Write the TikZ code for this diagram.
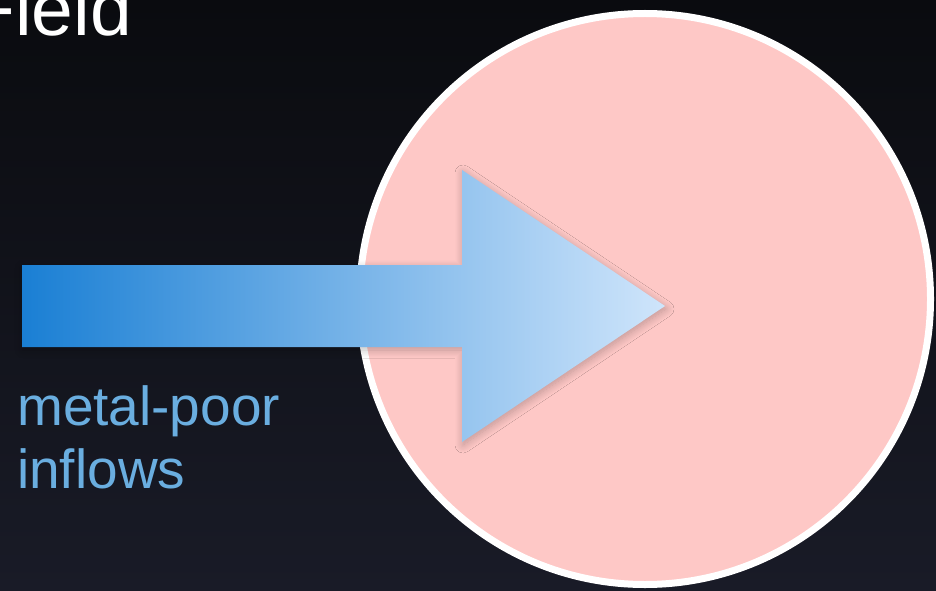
\documentclass[tikz,border=0pt]{standalone}
\usepackage{fontspec}
\setmainfont{Liberation Sans}
\usepackage{tikz}
\usetikzlibrary{shadows.blur}
\definecolor{bgtop}{HTML}{0A0B0F}
\definecolor{bgbottom}{HTML}{191B27}
\definecolor{diskpink}{HTML}{FEC8C6}
\definecolor{flowdark}{HTML}{1A7FD4}
\definecolor{flowlight}{HTML}{CFE5FB}
\definecolor{labelblue}{HTML}{6AAEE0}

\begin{document}
\begin{tikzpicture}[x=1pt,y=-1pt]
\clip (0,0) rectangle (936,591);
\shade[top color=bgtop, bottom color=bgbottom] (0,0) rectangle (936,591);
\node[circle, draw=white, line width=7pt, fill=diskpink, minimum size=571pt, inner sep=0pt] (disk) at (645,299) {};
\shade[left color=flowdark, right color=flowlight,
  blur shadow={shadow xshift=1pt, shadow yshift=-3pt, shadow blur radius=8pt, shadow blur steps=12, shadow opacity=25}]
  (22,265) -- (462,265) -- (462,170) -- (665,306) -- (462,442) -- (462,347) -- (22,347) -- cycle; % inflow arrow
\node[anchor=base west, text=white, font=\fontsize{75}{88}\selectfont, inner sep=0pt] (title) at (-31,36) {Field};
\node[anchor=north west, text=labelblue, align=left, font=\fontsize{55}{63}\selectfont, inner sep=0pt] (inflow) at (17,385) {metal-poor\\inflows};
\end{tikzpicture}
\end{document}
